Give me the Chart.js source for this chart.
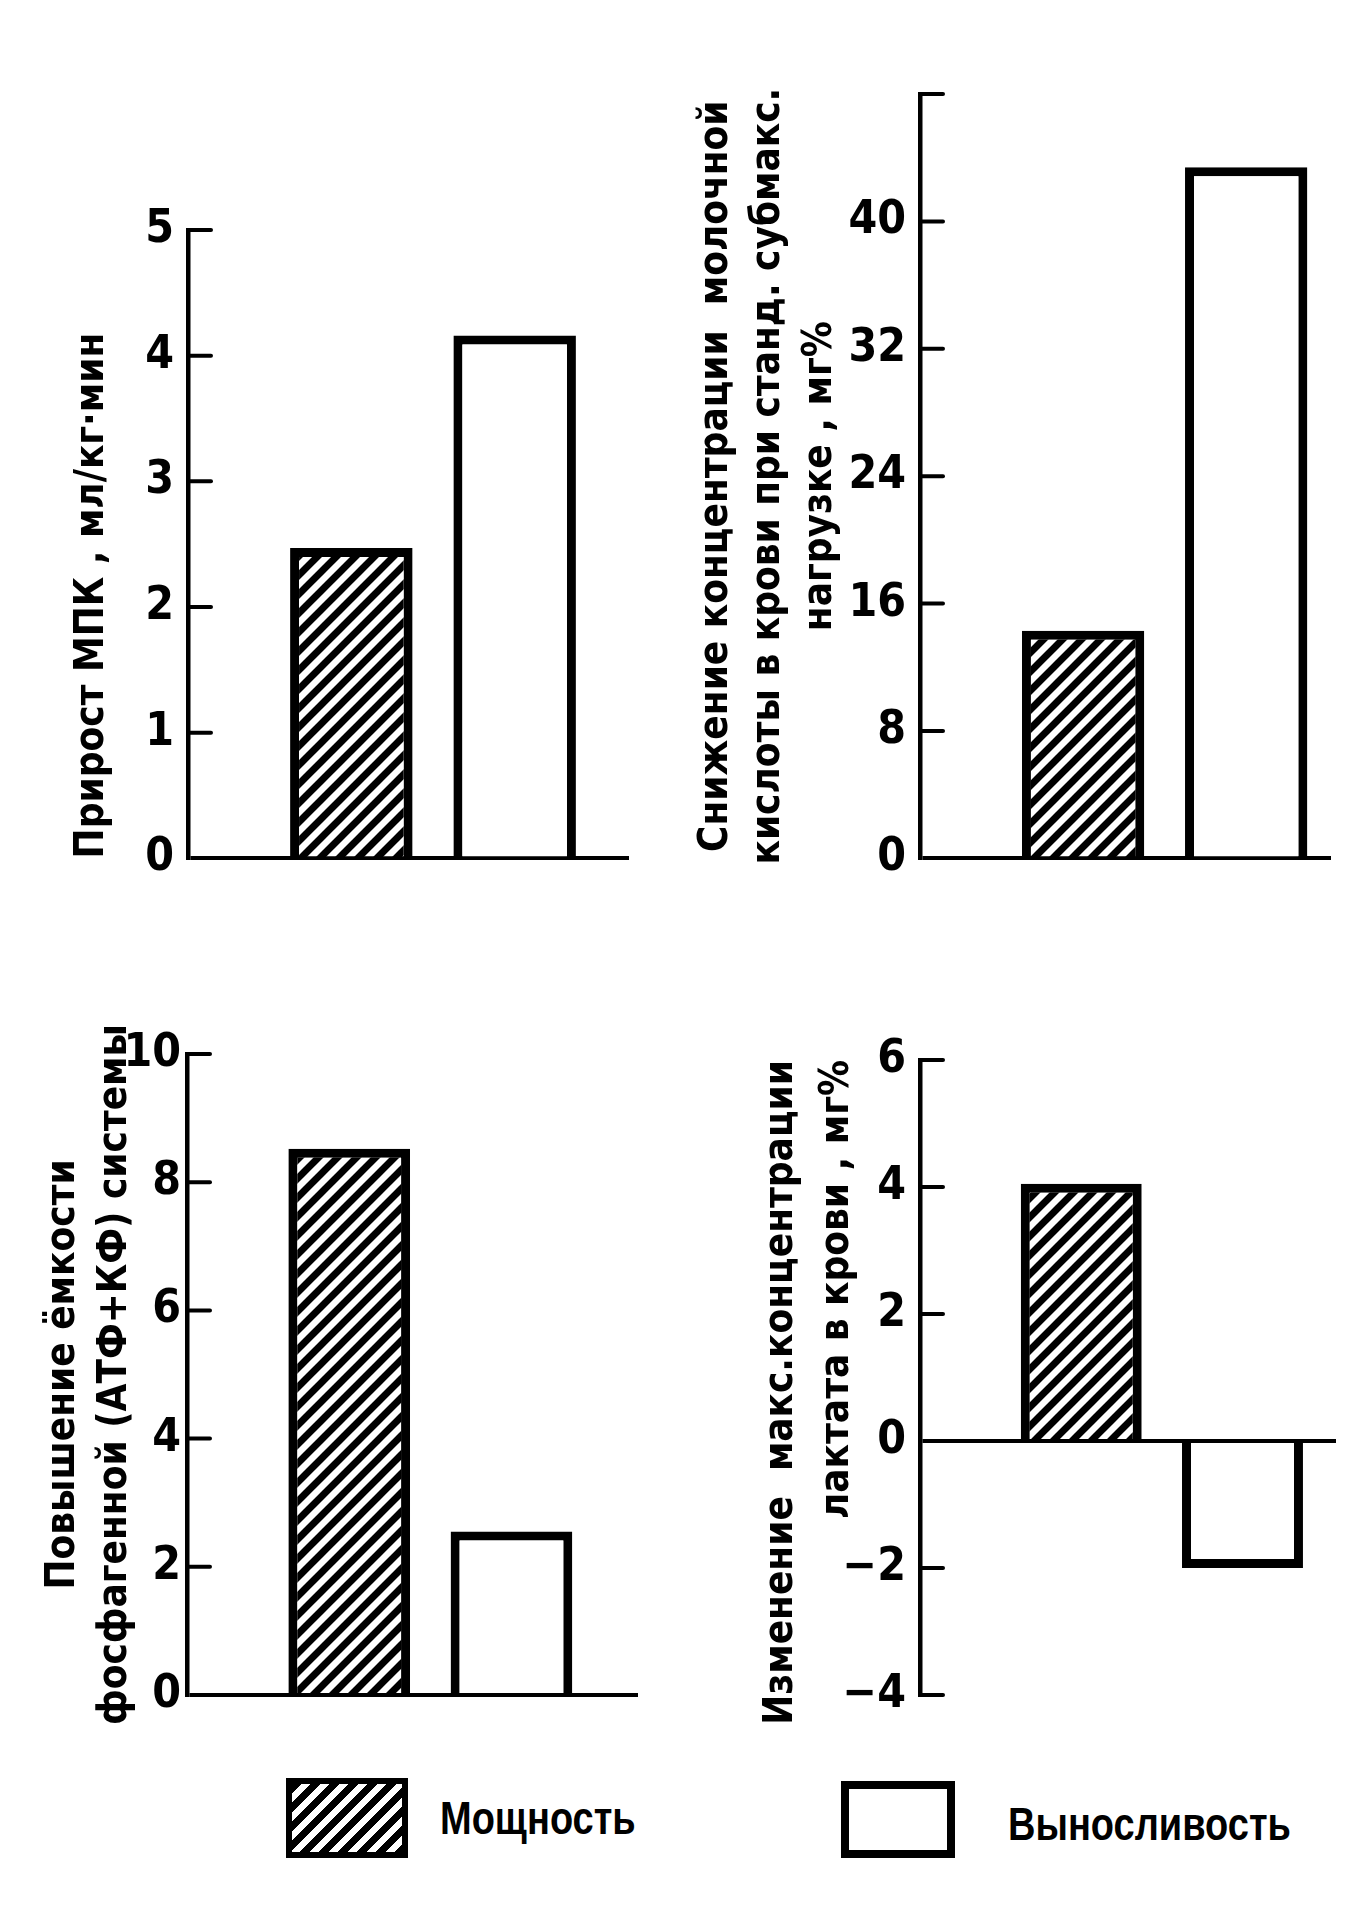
<!DOCTYPE html>
<html>
<head>
<meta charset="utf-8">
<script src="https://cdn.jsdelivr.net/npm/chart.js"></script>
<style>
  body { margin: 0; background: #fff; width: 1352px; height: 1927px; position: relative; overflow: hidden; }
  .box { position: absolute; }
  .legend-swatch { position: absolute; box-sizing: border-box; border: 6px solid #000; }
  .legend-text { position: absolute; font: bold 38px "Liberation Sans", Arial, sans-serif; color: #000; line-height: 1; transform: scaleY(1.2); transform-origin: left center; }
</style>
</head>
<body>
<div class="box" style="left:0;top:0;width:676px;height:900px"><canvas id="chartVo2"></canvas></div>
<div class="box" style="left:676px;top:0;width:676px;height:900px"><canvas id="chartLactate"></canvas></div>
<div class="box" style="left:0;top:963px;width:676px;height:800px"><canvas id="chartPhos"></canvas></div>
<div class="box" style="left:676px;top:963px;width:676px;height:800px"><canvas id="chartChange"></canvas></div>

<div class="legend-swatch" style="left:286px;top:1778px;width:122px;height:80px;background:repeating-linear-gradient(135deg,#000 0 7px,#fff 7px 13.4px)"></div>
<div class="legend-text" id="legendPower" style="left:440px;top:1799px"></div>
<div class="legend-swatch" style="left:841px;top:1781px;width:114px;height:77px;border-width:8px;background:#fff"></div>
<div class="legend-text" id="legendEndurance" style="left:1008px;top:1805px"></div>

<script>
  // data
  const categories = ['Мощность', 'Выносливость']

  const vo2Gain = [2.47, 4.16]
  const lactateDrop = [14.3, 43.4]
  const phosphagenGain = [8.52, 2.55]
  const lactateMaxChange = [4.05, -2.0]

  const ticksVo2 = [0, 1, 2, 3, 4, 5]
  const ticksLactate = [0, 8, 16, 24, 32, 40, 48]
  const ticksPhos = [0, 2, 4, 6, 8, 10]
  const ticksChange = [-4, -2, 0, 2, 4, 6]

  const titleVo2 = ['Прирост МПК , мл/кг·мин']
  const titleLactate = ['Снижение концентрации  молочной', 'кислоты в крови при станд. субмакс.', 'нагрузке , мг%']
  const titlePhos = ['Повышение ёмкости', 'фосфагенной (АТФ+КФ) системы']
  const titleChange = ['Изменение  макс.концентрации', 'лактата в крови , мг%']

  document.getElementById('legendPower').textContent = categories[0]
  document.getElementById('legendEndurance').textContent = categories[1]

  const narrow = '"Liberation Sans Narrow", "DejaVu Sans Condensed", "Roboto Condensed", sans-serif'

  Chart.defaults.animation = false
  Chart.defaults.color = '#000'

  function hatch() {
    const c = document.createElement('canvas')
    c.width = c.height = 19
    const g = c.getContext('2d')
    g.fillStyle = '#fff'
    g.fillRect(0, 0, 19, 19)
    g.strokeStyle = '#000'
    g.lineWidth = 7
    g.beginPath()
    g.moveTo(-5, 24); g.lineTo(24, -5)
    g.moveTo(-5, 5); g.lineTo(5, -5)
    g.moveTo(14, 24); g.lineTo(24, 14)
    g.stroke()
    return g.createPattern(c, 'repeat')
  }
  const hatchFill = hatch()

  // tick marks pointing into the plot, like the printed figure
  const innerTicks = {
    id: 'innerTicks',
    afterDatasetsDraw(chart, args, opts) {
      const y = chart.scales.y
      const ctx = chart.ctx
      const x0 = chart.chartArea.left
      ctx.save()
      ctx.strokeStyle = '#000'
      ctx.lineWidth = 4
      ctx.lineCap = 'round'
      y.ticks.forEach((t, i) => {
        if (t.value === 0) return
        const py = y.getPixelForTick(i)
        ctx.beginPath()
        ctx.moveTo(x0, py)
        ctx.lineTo(x0 + opts.length, py)
        ctx.stroke()
      })
      ctx.restore()
    }
  }

  function makeChart(id, values, ticks, title, o) {
    new Chart(document.getElementById(id), {
      type: 'bar',
      data: {
        datasets: [{
          data: values.map((v, i) => ({ x: i + 1, y: v })),
          backgroundColor: [hatchFill, '#fff'],
          borderColor: '#000',
          borderWidth: 9,
          borderSkipped: 'start',
          barPercentage: 0.75,
          categoryPercentage: 1
        }]
      },
      options: {
        responsive: true,
        maintainAspectRatio: false,
        layout: { padding: o.padding },
        plugins: {
          legend: { display: false },
          tooltip: { enabled: false },
          innerTicks: { length: 23 }
        },
        scales: {
          x: {
            type: 'linear', display: false, offset: false, min: 0, max: o.xMax,
            afterBuildTicks: (scale) => { scale.ticks = categories.map((c, i) => ({ value: i + 1 })) }
          },
          y: {
            min: ticks[0],
            max: ticks[ticks.length - 1],
            afterBuildTicks: (scale) => { scale.ticks = ticks.map(v => ({ value: v })) },
            afterFit: (scale) => { scale.width = o.axisWidth },
            ticks: {
              padding: o.tickPad || 14,
              font: { family: narrow, weight: 'bold', size: 46 },
              callback: (v) => o.hide && o.hide.includes(v) ? '' : (v < 0 ? '−' + Math.abs(v) : String(v))
            },
            grid: {
              drawTicks: false,
              lineWidth: 4,
              color: (c) => c.tick && c.tick.value === 0 ? '#000' : 'rgba(0,0,0,0)'
            },
            border: { display: true, color: '#000', width: 4.5 },
            title: {
              display: true,
              text: title,
              align: o.titleAlign || 'center',
              padding: { top: o.titlePad, bottom: 0 },
              font: { family: narrow, weight: 'bold', size: 40, lineHeight: o.lineHeight + 'px' }
            }
          }
        }
      },
      plugins: [innerTicks]
    })
  }

  makeChart('chartVo2', vo2Gain, ticksVo2, titleVo2, {
    xMax: 2.7, axisWidth: 188, titlePad: 68, lineHeight: 50, titleAlign: 'start',
    padding: { left: 0, top: 230, right: 47, bottom: 36 }
  })
  makeChart('chartLactate', lactateDrop, ticksLactate, titleLactate, {
    xMax: 2.52, axisWidth: 244, titlePad: 15, lineHeight: 52, hide: [48],
    padding: { left: 0, top: 94, right: 21, bottom: 39 }
  })
  makeChart('chartPhos', phosphagenGain, ticksPhos, titlePhos, {
    xMax: 2.78, axisWidth: 187, titlePad: 38, lineHeight: 52, tickPad: 6,
    padding: { left: 0, top: 91, right: 38, bottom: 68 }
  })
  makeChart('chartChange', lactateMaxChange, ticksChange, titleChange, {
    xMax: 2.58, axisWidth: 244, titlePad: 78, lineHeight: 56, titleAlign: 'end',
    padding: { left: 0, top: 97, right: 16, bottom: 68 }
  })
</script>
</body>
</html>
